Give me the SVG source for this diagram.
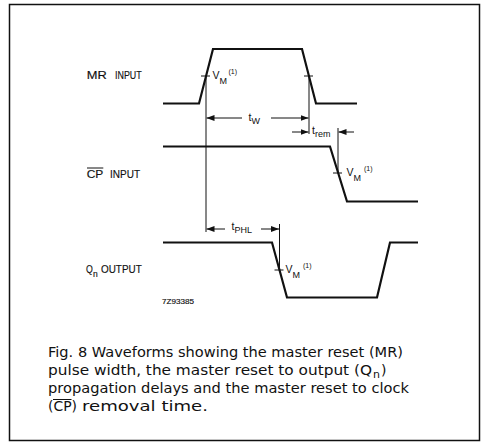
<svg xmlns="http://www.w3.org/2000/svg" width="483" height="444" viewBox="0 0 483 444">
<defs>
<marker id="ah" markerWidth="8" markerHeight="6" refX="8" refY="3" orient="auto" markerUnits="userSpaceOnUse">
<path d="M0,0 L8,3 L0,6 z" fill="#111"/>
</marker>
<style>
.wave{fill:none;stroke:#111;stroke-width:2.2;stroke-linejoin:miter}
.thin{fill:none;stroke:#111;stroke-width:1}
.dim{fill:none;stroke:#111;stroke-width:1;marker-end:url(#ah)}
.lbl{font-family:"Liberation Sans",Arial,sans-serif;font-size:10.5px;fill:#111;stroke:#111;stroke-width:0.15}
.vm{font-family:"Liberation Sans",Arial,sans-serif;font-size:10.5px;fill:#111}
.sub{font-size:9px}
.sup{font-size:7px}
.cap{font-family:"DejaVu Sans","Liberation Sans",sans-serif;font-size:14px;fill:#111}
</style>
</defs>
<rect x="0" y="0" width="483" height="444" fill="#fff"/>
<rect id="frame" x="9.5" y="4.5" width="470" height="436" fill="none" stroke="#111" stroke-width="1.5"/>

<g id="mr-input">
<text class="lbl" x="86.7" y="79" textLength="20" lengthAdjust="spacingAndGlyphs">MR</text>
<text class="lbl" x="115" y="79" textLength="26.7" lengthAdjust="spacingAndGlyphs">INPUT</text>
<path class="wave" d="M163,103.5 L199,103.5 L213,49 L302,49 L316,103.5 L357,103.5"/>
<line class="thin" x1="201" y1="76" x2="210" y2="76"/>
<line class="thin" x1="304" y1="76" x2="313" y2="76"/>
<text class="vm" x="212.5" y="79">V<tspan class="sub" dy="5">M</tspan><tspan class="sup" dx="1.5" dy="-10">(1)</tspan></text>
</g>

<g id="cp-input">
<text class="lbl" x="86.7" y="178" textLength="16.6" lengthAdjust="spacingAndGlyphs">CP</text>
<line class="thin" x1="87" y1="168" x2="103.3" y2="168"/>
<text class="lbl" x="110" y="178" textLength="30" lengthAdjust="spacingAndGlyphs">INPUT</text>
<path class="wave" d="M163,146.5 L330,146.5 L347,201.5 L418,201.5"/>
<line class="thin" x1="333" y1="173" x2="342" y2="173"/>
<text class="vm" x="346.5" y="176">V<tspan class="sub" dy="5">M</tspan><tspan class="sup" dx="3" dy="-10">(1)</tspan></text>
</g>

<g id="qn-output">
<text class="lbl" x="86" y="273" textLength="6.8" lengthAdjust="spacingAndGlyphs">Q</text>
<text class="lbl" x="93" y="276.5" style="font-size:8.5px">n</text>
<text class="lbl" x="101" y="273" textLength="40.7" lengthAdjust="spacingAndGlyphs">OUTPUT</text>
<path class="wave" d="M163,242.5 L272,242.5 L287,297.5 L377,297.5 L390,242.5 L418,242.5"/>
<line class="thin" x1="274.5" y1="270" x2="283.5" y2="270"/>
<text class="vm" x="285.5" y="273">V<tspan class="sub" dy="5">M</tspan><tspan class="sup" dx="3" dy="-10">(1)</tspan></text>
<text class="lbl" x="162" y="304" style="font-size:7.5px" textLength="32" lengthAdjust="spacingAndGlyphs">7Z93385</text>
</g>

<g id="connectors">
<line class="thin" x1="206" y1="76" x2="206" y2="232"/>
<line class="thin" x1="309" y1="76" x2="309" y2="134"/>
<line class="thin" x1="338" y1="128" x2="338" y2="173"/>
<line class="thin" x1="279.5" y1="224" x2="279.5" y2="270"/>
<line class="dim" x1="242" y1="118" x2="206.5" y2="118"/>
<line class="dim" x1="271" y1="118" x2="308.5" y2="118"/>
<line class="dim" x1="292" y1="132" x2="308.5" y2="132"/>
<line class="dim" x1="354" y1="132" x2="338.5" y2="132"/>
<line class="dim" x1="225" y1="229" x2="206.5" y2="229"/>
<line class="dim" x1="261" y1="229" x2="279" y2="229"/>
</g>

<g id="dim-labels">
<text class="vm" x="248.5" y="121">t<tspan class="sub" dy="3">W</tspan></text>
<text class="vm" x="312" y="134">t<tspan class="sub" dy="3">rem</tspan></text>
<text class="vm" x="231.5" y="230">t<tspan class="sub" dy="3">PHL</tspan></text>
</g>

<g id="caption">
<text class="cap" x="48" y="357" textLength="355" lengthAdjust="spacingAndGlyphs">Fig. 8  Waveforms showing the master reset (MR)</text>
<text class="cap" x="48" y="375" textLength="324" lengthAdjust="spacingAndGlyphs">pulse width, the master reset to output (Q</text>
<text class="cap" x="373" y="378" style="font-size:11px">n</text>
<text class="cap" x="381" y="375">)</text>
<text class="cap" x="48" y="393" textLength="361" lengthAdjust="spacingAndGlyphs">propagation delays and the master reset to clock</text>
<text class="cap" x="48" y="411" textLength="29" lengthAdjust="spacingAndGlyphs">(CP)</text>
<text class="cap" x="82" y="411" textLength="126" lengthAdjust="spacingAndGlyphs">removal time.</text>
<line class="thin" x1="53" y1="399.5" x2="71.5" y2="399.5"/>
</g>
</svg>
